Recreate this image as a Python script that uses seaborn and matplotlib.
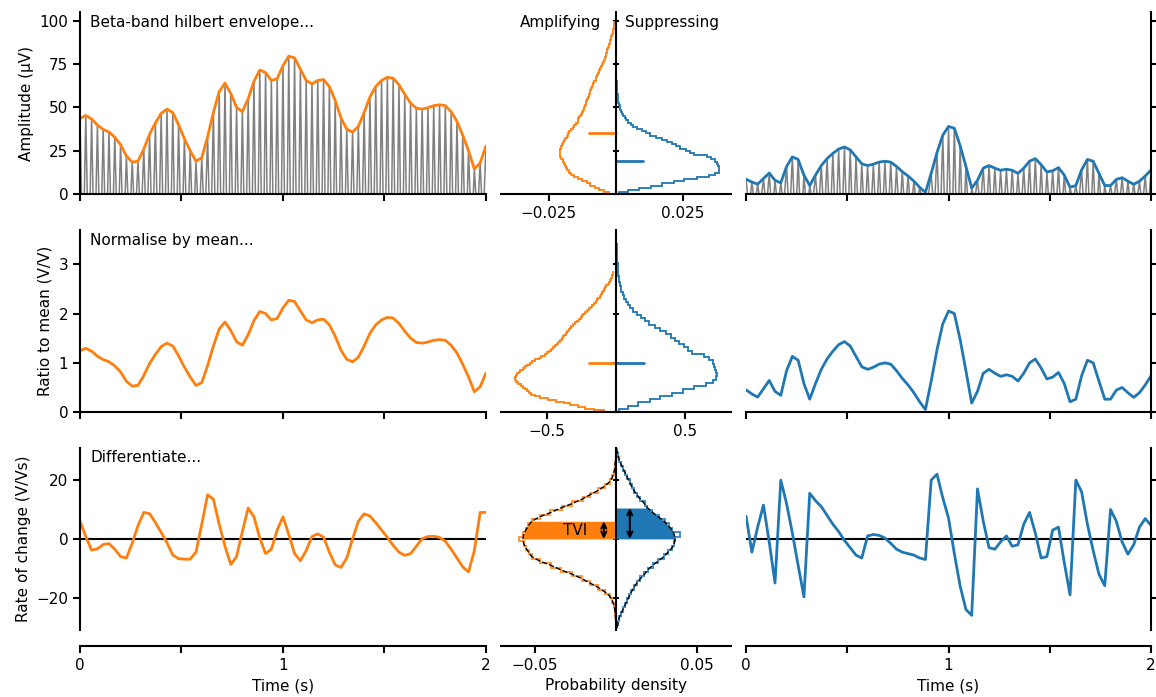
import numpy as np
import matplotlib.pyplot as plt
import seaborn as sns

# one envelope sample per cycle of the beta carrier
carrier_hz = 35
t = np.arange(71) / carrier_hz

# beta-band hilbert envelope (uV), amplifying (orange) and suppressing (blue) traces
env_amp = [43.7, 45.3, 43.3, 39.8, 37.3, 35.8, 32.8, 28.5, 22.0, 18.5,
           19.0, 26.0, 34.5, 41.0, 46.5, 49.0, 47.0, 40.0, 32.0, 25.0,
           19.0, 21.0, 33.0, 47.0, 59.0, 64.0, 58.0, 50.0, 47.5, 55.0,
           65.0, 71.5, 70.0, 65.5, 66.5, 74.0, 79.5, 78.5, 72.0, 65.5,
           63.5, 65.5, 66.0, 62.0, 54.0, 44.0, 37.5, 35.8, 39.0, 47.0,
           56.0, 62.0, 65.5, 67.3, 66.8, 63.0, 57.5, 52.5, 49.5, 49.0,
           49.8, 51.0, 51.5, 51.0, 47.5, 42.0, 34.0, 25.0, 14.5, 18.0, 27.8]
env_sup = [8.6, 7.0, 5.8, 9.0, 12.2, 8.0, 6.5, 16.0, 21.5, 20.0,
           11.0, 5.0, 11.0, 16.5, 20.5, 23.5, 26.0, 27.2, 25.5, 21.5,
           17.5, 16.5, 17.3, 18.5, 19.0, 18.5, 16.0, 13.0, 10.5, 7.5,
           4.0, 1.0, 12.0, 24.0, 34.0, 39.0, 38.0, 28.0, 16.0, 3.5,
           8.0, 15.0, 16.5, 15.0, 13.8, 14.4, 13.8, 12.0, 15.0, 19.0,
           20.5, 17.0, 12.8, 13.5, 15.3, 11.0, 4.0, 5.0, 14.0, 20.0,
           19.0, 12.0, 5.0, 5.0, 8.5, 9.5, 7.5, 5.7, 7.5, 10.5, 14.0]

# recording-wide mean amplitude used for normalisation (uV)
mean_amp = 35.0
mean_sup = 19.0

# rate of change of the normalised envelope (V/Vs)
rate_amp = [6.1, 0.8, -3.8, -3.4, -1.9, -1.6, -3.5, -6.0, -6.5, -1.5,
            4.5, 9.0, 8.6, 5.6, 2.2, -1.3, -5.5, -6.7, -6.9, -6.9,
            -4.5, 5.0, 15.0, 13.5, 5.0, -2.5, -8.7, -6.0, 2.5, 10.5,
            7.5, 0.3, -5.0, -3.5, 3.0, 7.5, 1.5, -5.0, -7.4, -4.0,
            0.8, 1.7, 0.6, -4.5, -8.8, -9.7, -6.5, 0.0, 6.0, 8.5,
            7.8, 5.5, 3.0, 0.5, -2.2, -4.5, -5.6, -5.0, -2.5, 0.1,
            0.8, 0.9, 0.5, -0.8, -3.5, -6.5, -9.5, -11.2, -4.0, 9.0, 9.0]
rate_sup = [7.7, -4.5, 4.0, 11.5, -1.0, -15.0, 20.0, 12.0, 2.0, -9.0,
            -19.7, 15.5, 13.0, 11.0, 8.0, 5.0, 2.5, -0.5, -3.0, -5.5,
            -6.5, 1.0, 1.5, 1.2, 0.3, -1.5, -3.5, -4.5, -5.0, -5.5,
            -6.5, -7.0, 20.0, 22.0, 14.0, 7.0, -5.0, -16.0, -24.0, -26.0,
            17.0, 6.0, -3.0, -3.5, -1.0, 1.0, -2.5, -2.0, 5.0, 9.0,
            2.0, -6.5, -6.0, 3.0, 4.0, -8.0, -19.0, 20.0, 16.0, 5.0,
            -4.0, -12.0, -15.9, 10.0, 6.0, -1.0, -5.2, -2.0, 4.0, 6.9, 4.6]

# amplitude histograms (density per uV), bins of 1.25 uV from 0 to 100
amp_edges = np.linspace(0, 100, 81)
amp_dens_amp = [0.0025, 0.0045, 0.0065, 0.0080, 0.0095, 0.0108, 0.0125, 0.0142,
                0.0158, 0.0168, 0.0176, 0.0181, 0.0185, 0.0190, 0.0193, 0.0197,
                0.0203, 0.0208, 0.0210, 0.0209, 0.0207, 0.0205, 0.0201, 0.0199,
                0.0194, 0.0190, 0.0184, 0.0179, 0.0175, 0.0168, 0.0160, 0.0155,
                0.0148, 0.0143, 0.0140, 0.0136, 0.0130, 0.0126, 0.0123, 0.0120,
                0.0117, 0.0113, 0.0111, 0.0108, 0.0104, 0.0101, 0.0098, 0.0096,
                0.0093, 0.0089, 0.0086, 0.0081, 0.0076, 0.0073, 0.0071, 0.0068,
                0.0064, 0.0060, 0.0056, 0.0052, 0.0049, 0.0046, 0.0042, 0.0039,
                0.0037, 0.0034, 0.0032, 0.0029, 0.0027, 0.0024, 0.0022, 0.0020,
                0.0017, 0.0015, 0.0013, 0.0011, 0.0009, 0.0008, 0.0007, 0.0006]
amp_dens_sup = [0.0010, 0.0045, 0.0085, 0.0130, 0.0170, 0.0215, 0.0255, 0.0300,
                0.0345, 0.0370, 0.0382, 0.0385, 0.0383, 0.0380, 0.0376, 0.0370,
                0.0355, 0.0338, 0.0290, 0.0276, 0.0260, 0.0240, 0.0225, 0.0210,
                0.0190, 0.0170, 0.0150, 0.0127, 0.0110, 0.0095, 0.0080, 0.0065,
                0.0055, 0.0045, 0.0038, 0.0032, 0.0026, 0.0021, 0.0018, 0.0015,
                0.0013, 0.0011, 0.0009, 0.0008, 0.0007, 0.0006, 0.0005, 0.0004,
                0.0003, 0.0003, 0.0002, 0.0002, 0.0001, 0.0001, 0.0001, 0.0,
                0.0, 0.0, 0.0, 0.0, 0.0, 0.0, 0.0, 0.0,
                0.0, 0.0, 0.0, 0.0, 0.0, 0.0, 0.0, 0.0,
                0.0, 0.0, 0.0, 0.0, 0.0, 0.0, 0.0, 0.0]

# rate-of-change histograms (density), bins of 1.5 V/Vs centred on -30..30
rate_edges = np.linspace(-30.75, 30.75, 42)
rate_dens_amp = [0.0001, 0.0002, 0.0003, 0.0005, 0.0008, 0.0013, 0.0022, 0.0038, 0.0068, 0.0110,
                 0.0160, 0.0210, 0.0270, 0.0340, 0.0400, 0.0470, 0.0518, 0.0538, 0.0555, 0.0568,
                 0.0596,
                 0.0570, 0.0552, 0.0540, 0.0515, 0.0470, 0.0405, 0.0335, 0.0272, 0.0205, 0.0160,
                 0.0112, 0.0070, 0.0040, 0.0023, 0.0013, 0.0008, 0.0005, 0.0003, 0.0002, 0.0001]
rate_dens_sup = [0.0008, 0.0012, 0.0018, 0.0030, 0.0042, 0.0056, 0.0068, 0.0082, 0.0095, 0.0110,
                 0.0128, 0.0150, 0.0175, 0.0195, 0.0225, 0.0260, 0.0295, 0.0320, 0.0345, 0.0358,
                 0.0365,
                 0.0396, 0.0345, 0.0325, 0.0300, 0.0262, 0.0222, 0.0193, 0.0178, 0.0148, 0.0130,
                 0.0108, 0.0097, 0.0085, 0.0068, 0.0055, 0.0043, 0.0032, 0.0020, 0.0012, 0.0008]
# fitted distributions drawn over the histograms
fit_rate = np.linspace(-30, 30, 41)
fit_amp = [0.0001, 0.0002, 0.0003, 0.0005, 0.0008, 0.0013, 0.0022, 0.0038, 0.0068, 0.0110,
           0.0160, 0.0210, 0.0270, 0.0340, 0.0400, 0.0470, 0.0518, 0.0538, 0.0555, 0.0568,
           0.0572,
           0.0568, 0.0555, 0.0538, 0.0518, 0.0470, 0.0400, 0.0340, 0.0270, 0.0210, 0.0160,
           0.0110, 0.0068, 0.0038, 0.0022, 0.0013, 0.0008, 0.0005, 0.0003, 0.0002, 0.0001]
fit_sup = [0.0008, 0.0012, 0.0018, 0.0030, 0.0042, 0.0056, 0.0068, 0.0082, 0.0095, 0.0110,
           0.0128, 0.0150, 0.0175, 0.0195, 0.0225, 0.0260, 0.0295, 0.0320, 0.0345, 0.0358,
           0.0363,
           0.0358, 0.0345, 0.0320, 0.0295, 0.0260, 0.0225, 0.0195, 0.0175, 0.0150, 0.0128,
           0.0110, 0.0095, 0.0082, 0.0068, 0.0056, 0.0042, 0.0030, 0.0018, 0.0012, 0.0008]
tvi_amp = 6.0
tvi_sup = 10.5

orange = "#ff7f0e"
blue = "#1f77b4"

sns.set_theme(style="ticks", rc={"font.size": 11, "axes.labelsize": 11,
                                 "xtick.labelsize": 11, "ytick.labelsize": 11,
                                 "axes.linewidth": 1.5, "xtick.major.width": 1.5,
                                 "ytick.major.width": 1.5, "xtick.major.size": 5,
                                 "ytick.major.size": 5, "text.color": "black",
                                 "axes.labelcolor": "black", "axes.edgecolor": "black",
                                 "xtick.color": "black", "ytick.color": "black"})
plt.rcParams["font.family"] = ["DejaVu Sans"]

fig, axes = plt.subplots(3, 3, figsize=(11.56, 6.97), dpi=100,
                         gridspec_kw=dict(width_ratios=[406, 231, 405],
                                          left=0.0692, right=0.9957, top=0.983, bottom=0.096,
                                          wspace=0.042, hspace=0.195))

env_amp = np.array(env_amp)
env_sup = np.array(env_sup)
ylims = [(0, 105), (0, 3.7), (-31, 31)]
yticks = [[0, 25, 50, 75, 100], [0, 1, 2, 3], [-20, 0, 20]]
mid_xlim = [0.043, 0.84, 0.071]
mid_xticks = [0.025, 0.5, 0.05]

# raw beta trace: carrier peaks follow the envelope, troughs mirror it
half = 0.5 / carrier_hz
for col, env, color, mean, rate in [(0, env_amp, orange, mean_amp, rate_amp),
                                    (2, env_sup, blue, mean_sup, rate_sup)]:
    raw_t = np.column_stack([t, t + half]).ravel()
    raw_v = np.column_stack([env, -env]).ravel()
    ax = axes[0, col]
    ax.plot(raw_t, raw_v, color="grey", lw=1.1)
    sns.lineplot(x=t, y=env, color=color, lw=2, ax=ax)
    sns.lineplot(x=t, y=env / mean, color=color, lw=2, ax=axes[1, col])
    axes[2, col].axhline(0, color="black", lw=1.5)
    sns.lineplot(x=t, y=rate, color=color, lw=2, ax=axes[2, col])

for row in range(3):
    for col in (0, 2):
        ax = axes[row, col]
        ax.set_xlim(0, 2)
        ax.set_ylim(*ylims[row])
        ax.set_yticks(yticks[row])
        ax.set_xticks([0, 0.5, 1, 1.5, 2])
        ax.set_xticklabels(["0", "", "1", "", "2"] if row == 2 else [])
        if col == 0:
            sns.despine(ax=ax)
        else:
            sns.despine(ax=ax, left=True, right=False)
            ax.yaxis.tick_right()
            ax.tick_params(axis="y", labelright=False)
    ax = axes[row, 1]
    ax.set_ylim(*ylims[row])
    ax.set_xlim(-mid_xlim[row], mid_xlim[row])
    ax.set_xticks([-mid_xticks[row], mid_xticks[row]])
    ax.set_xticklabels(["\u2212" + f"{mid_xticks[row]:g}", f"{mid_xticks[row]:g}"])
    sns.despine(ax=ax)
    ax.spines["left"].set_position(("data", 0))
    ax.set_yticks(yticks[row])
    ax.tick_params(axis="y", direction="inout", length=5, labelleft=False)

for ax in axes[2]:
    ax.spines["bottom"].set_position(("outward", 11.5))

# middle column: mirrored distributions
ax = axes[0, 1]
ax.stairs(-np.array(amp_dens_amp), amp_edges, orientation="horizontal", color=orange, lw=1.3, baseline=None)
ax.stairs(np.array(amp_dens_sup), amp_edges, orientation="horizontal", color=blue, lw=1.3, baseline=None)
ax.plot([-0.01, 0], [mean_amp, mean_amp], color=orange, lw=2)
ax.plot([0, 0.01], [mean_sup, mean_sup], color=blue, lw=2)

ax = axes[1, 1]
ax.stairs(-np.array(amp_dens_amp) * mean_amp, amp_edges / mean_amp, orientation="horizontal",
          color=orange, lw=1.3, baseline=None)
ax.stairs(np.array(amp_dens_sup) * mean_sup, amp_edges / mean_sup, orientation="horizontal",
          color=blue, lw=1.3, baseline=None)
ax.plot([-0.2, 0], [1, 1], color=orange, lw=2)
ax.plot([0, 0.2], [1, 1], color=blue, lw=2)

ax = axes[2, 1]
fit_amp = np.array(fit_amp)
fit_sup = np.array(fit_sup)
sel = (fit_rate >= 0) & (fit_rate <= tvi_amp)
ax.fill_betweenx(fit_rate[sel], -fit_amp[sel], 0, color=orange, lw=0)
sel = (fit_rate >= 0) & (fit_rate <= tvi_sup)
ax.fill_betweenx(fit_rate[sel], 0, fit_sup[sel], color=blue, lw=0)
ax.stairs(-np.array(rate_dens_amp), rate_edges, orientation="horizontal", color=orange, lw=1.5,
          alpha=0.8, baseline=None)
ax.stairs(np.array(rate_dens_sup), rate_edges, orientation="horizontal", color=blue, lw=1.5,
          alpha=0.8, baseline=None)
ax.plot(-fit_amp, fit_rate, color="black", lw=1, ls="--")
ax.plot(fit_sup, fit_rate, color="black", lw=1, ls="--")
arrow = dict(arrowstyle="<->", color="black", lw=1.5, shrinkA=0, shrinkB=0, mutation_scale=9)
ax.annotate("", xy=(-0.0075, 0), xytext=(-0.0075, tvi_amp), arrowprops=arrow)
ax.annotate("", xy=(0.0085, 0), xytext=(0.0085, tvi_sup), arrowprops=arrow)
ax.text(-0.025, tvi_amp / 2, "TVI", ha="center", va="center", fontsize=11)

# labels
axes[0, 0].set_ylabel("Amplitude (\u00b5V)")
axes[1, 0].set_ylabel("Ratio to mean (V/V)")
axes[2, 0].set_ylabel("Rate of change (V/Vs)")
axes[2, 0].set_xlabel("Time (s)")
axes[2, 2].set_xlabel("Time (s)")
axes[2, 1].set_xlabel("Probability density")
for row, label in enumerate(["Beta-band hilbert envelope...", "Normalise by mean...", "Differentiate..."]):
    axes[row, 0].text(0.025, 0.985, label, transform=axes[row, 0].transAxes, va="top")
axes[0, 1].text(0.435, 0.985, "Amplifying", transform=axes[0, 1].transAxes, va="top", ha="right")
axes[0, 1].text(0.54, 0.985, "Suppressing", transform=axes[0, 1].transAxes, va="top", ha="left")

fig.savefig("out.png", dpi=100)
